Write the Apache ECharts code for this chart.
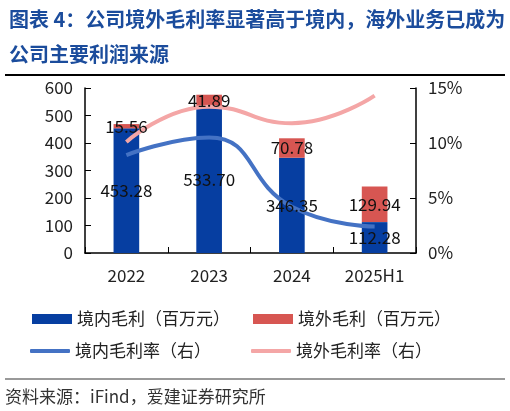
<!DOCTYPE html>
<html>
<head>
<meta charset="utf-8">
<script src="https://cdn.jsdelivr.net/npm/echarts@6/dist/echarts.min.js"></script>
<style>
html,body{margin:0;padding:0;background:#fff;}
#main{width:510px;height:411px;}
</style>
</head>
<body>
<div id="main"></div>
<script>
var years = ['2022', '2023', '2024', '2025H1'];
var domesticProfit = [453.28, 533.70, 346.35, 112.28];
var overseasProfit = [15.56, 41.89, 70.78, 129.94];
// 毛利率（%）
var domesticRate = [8.9, 10.5, 4.2, 2.4];
var overseasRate = [10.1, 13.3, 11.8, 14.3];
var leftTicks = [0, 600, 100];
var rightTicks = [0, 15, 5];

var font = '"Noto Sans CJK SC", "Noto Sans", sans-serif';
var chart = echarts.init(document.getElementById('main'));

function legendItem(name, left, top, icon, h) {
    return {
        left: left, top: top, itemWidth: 40, itemHeight: h, icon: icon,
        textStyle: {fontSize: 17, color: '#222', lineHeight: 20},
        data: [name]
    };
}
function fmt(p) { return p.value.toFixed(2); }

var labelStyle = {show: true, position: 'inside', color: '#111', fontSize: 17, formatter: fmt};

var option = {
    animation: false,
    textStyle: {fontFamily: font},
    title: {
        text: '图表 4：公司境外毛利率显著高于境内，海外业务已成为\n公司主要利润来源',
        left: 4,
        top: -3,
        textStyle: {
            fontFamily: font,
            fontSize: 20,
            fontWeight: 'bold',
            color: '#1b4c9c',
            lineHeight: 35
        }
    },
    graphic: [
        {type: 'line', shape: {x1: 5, y1: 75, x2: 505, y2: 75}, style: {stroke: '#000', lineWidth: 2}},
        {type: 'line', shape: {x1: 5, y1: 379, x2: 505, y2: 379}, style: {stroke: '#777', lineWidth: 1.5}},
        {type: 'text', left: 5, top: 388, style: {text: '资料来源：iFind，爱建证券研究所', font: '17px ' + font, fill: '#333'}}
    ],
    legend: [
        legendItem('境内毛利（百万元）', 27, 304, 'rect', 10),
        legendItem('境外毛利（百万元）', 248, 304, 'rect', 10),
        legendItem('境内毛利率（右）', 25, 336, 'roundRect', 4),
        legendItem('境外毛利率（右）', 246, 336, 'roundRect', 4)
    ],
    grid: {left: 85, right: 94, top: 88, bottom: 158},
    xAxis: {
        type: 'category',
        data: years,
        axisLine: {lineStyle: {color: '#000', width: 1.5}},
        axisTick: {show: true, inside: true, length: 6, lineStyle: {color: '#000'}},
        axisLabel: {fontSize: 17, color: '#222', margin: 14}
    },
    yAxis: [
        {
            type: 'value', min: leftTicks[0], max: leftTicks[1], interval: leftTicks[2],
            splitLine: {show: false},
            axisLine: {show: true, lineStyle: {color: '#000', width: 1.5}},
            axisTick: {show: true, inside: true, length: 6, lineStyle: {color: '#000'}},
            axisLabel: {fontSize: 17, color: '#222', margin: 12}
        },
        {
            type: 'value', min: rightTicks[0], max: rightTicks[1], interval: rightTicks[2],
            position: 'right',
            splitLine: {show: false},
            axisLine: {show: true, lineStyle: {color: '#000', width: 1.5}},
            axisTick: {show: true, inside: true, length: 6, lineStyle: {color: '#000'}},
            axisLabel: {fontSize: 17, color: '#222', margin: 12, formatter: '{value}%'}
        }
    ],
    series: [
        {
            name: '境内毛利（百万元）', type: 'bar', stack: 'gp', barWidth: '31%', z: 1,
            itemStyle: {color: '#063ea1'},
            data: domesticProfit
        },
        {
            name: '境外毛利（百万元）', type: 'bar', stack: 'gp', barWidth: '31%', z: 1,
            itemStyle: {color: '#d75652'},
            data: overseasProfit
        },
        {
            name: '境内毛利率（右）', type: 'line', yAxisIndex: 1, smooth: true, z: 2,
            symbol: 'none', lineStyle: {color: '#4472c4', width: 4},
            itemStyle: {color: '#4472c4'},
            data: domesticRate
        },
        {
            name: '境外毛利率（右）', type: 'line', yAxisIndex: 1, smooth: true, z: 2,
            symbol: 'none', lineStyle: {color: '#f4a6a6', width: 4},
            itemStyle: {color: '#f4a6a6'},
            data: overseasRate
        },
        // 透明柱只用来把数值标签画在折线上面
        {
            name: 'lblA', type: 'bar', stack: 'lbl', barWidth: '31%', barGap: '-100%', z: 5,
            itemStyle: {color: 'rgba(0,0,0,0)'}, label: labelStyle, silent: true,
            data: domesticProfit
        },
        {
            name: 'lblB', type: 'bar', stack: 'lbl', barWidth: '31%', barGap: '-100%', z: 5,
            itemStyle: {color: 'rgba(0,0,0,0)'}, label: labelStyle, silent: true,
            data: overseasProfit
        }
    ]
};
chart.setOption(option);
</script>
</body>
</html>
